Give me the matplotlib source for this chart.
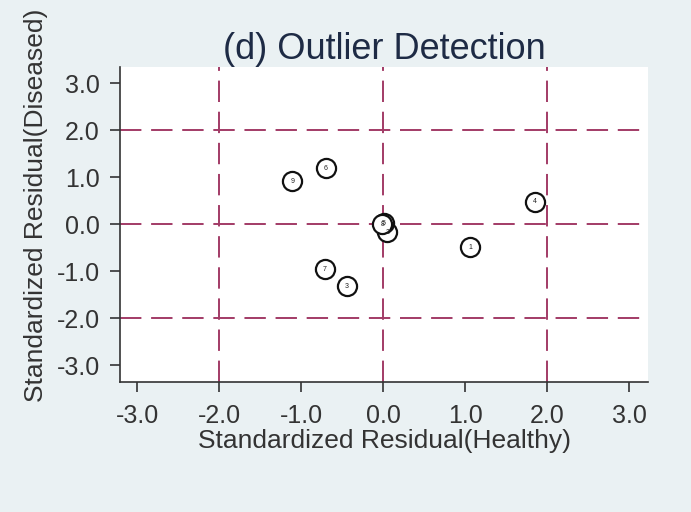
import matplotlib as mp
mp.use('agg')
import matplotlib.pyplot as plt

# standardized residuals
labels = ['1', '2', '3', '4', '5', '6', '7', '8', '9']
healthy = [1.06, 0.05, -0.44, 1.85, 0.01, -0.70, -0.71, -0.01, -1.11]
diseased = [-0.49, -0.17, -1.32, 0.47, 0.02, 1.19, -0.96, 0.00, 0.91]

ticks = [-3.0, -2.0, -1.0, 0.0, 1.0, 2.0, 3.0]
ref_x = [-2.0, 0.0, 2.0]
ref_y = [-2.0, 0.0, 2.0]


def main():
    plt.rcParams['font.family'] = ['Liberation Sans', 'DejaVu Sans']
    bg = '#eaf1f3'
    line_col = '#a23b66'

    fig = plt.figure(figsize=(6.91, 5.12), dpi=100, facecolor=bg)
    ax = fig.add_axes([0.1737, 0.2539, 0.7641, 0.6151])
    ax.set_facecolor('white')

    for v in ref_x:
        ax.axvline(v, color=line_col, lw=1.4, dashes=(11, 5), zorder=1)
    for v in ref_y:
        ax.axhline(v, color=line_col, lw=1.4, dashes=(11, 5), zorder=1)

    ax.scatter(healthy, diseased, s=190, facecolor='white', edgecolor='#111111',
               linewidths=1.6, zorder=3)
    for lab, x, y in zip(labels, healthy, diseased):
        ax.text(x, y, lab, fontsize=5, ha='center', va='center',
                color='#222222', zorder=4)

    ax.set_xlim(-3.21, 3.23)
    ax.set_ylim(-3.36, 3.34)
    ax.set_xticks(ticks)
    ax.set_yticks(ticks)
    ax.set_xticklabels(['%.1f' % t for t in ticks])
    ax.set_yticklabels(['%.1f' % t for t in ticks])

    for s in ['top', 'right']:
        ax.spines[s].set_visible(False)
    for s in ['left', 'bottom']:
        ax.spines[s].set_color('#333333')
        ax.spines[s].set_linewidth(1.2)
    ax.tick_params(direction='out', length=7.5, width=1.2, color='#333333',
                   labelsize=18, labelcolor='#333333')
    ax.tick_params(axis='y', pad=7)
    ax.tick_params(axis='x', pad=8)

    ax.set_xlabel('Standardized Residual(Healthy)', fontsize=19,
                  color='#333333', labelpad=1)
    ax.set_ylabel('Standardized Residual(Diseased)', fontsize=19,
                  color='#333333')
    ax.yaxis.set_label_coords(-0.137, 0.562)
    ax.set_title('(d) Outlier Detection', fontsize=26, color='#1e2b45', pad=6)

    fig.savefig('out.png', dpi=100, facecolor=bg)


if __name__ == '__main__':
    main()
